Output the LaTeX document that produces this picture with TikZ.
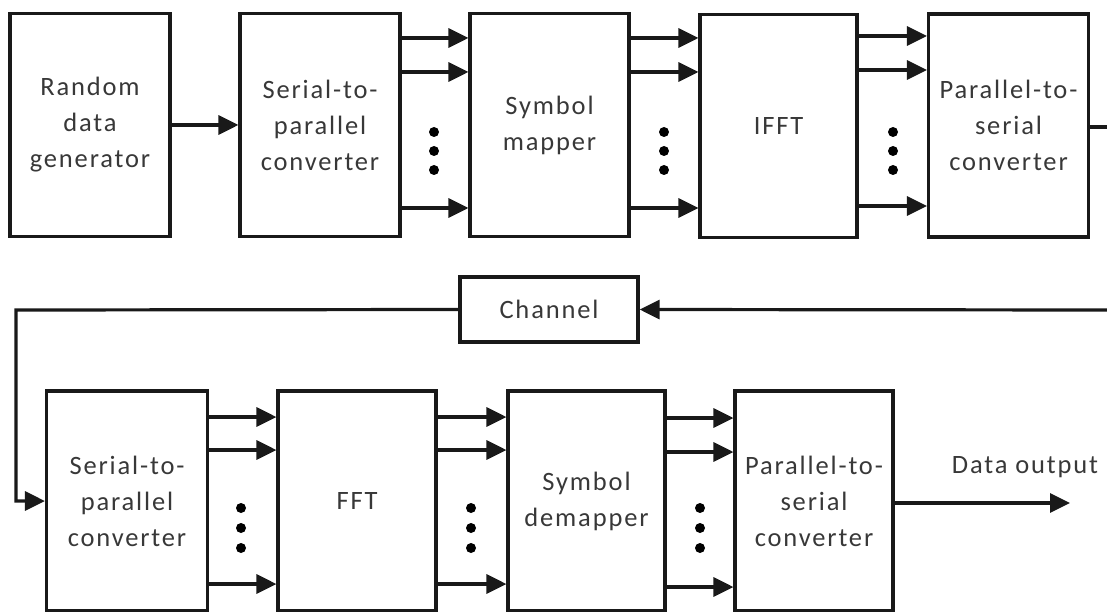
\documentclass[tikz,border=0pt]{standalone}
\usepackage{fontspec}
\setmainfont{Carlito}[LetterSpace=7]
\usetikzlibrary{arrows.meta}
\begin{document}
\begin{tikzpicture}[x=1pt,y=-1pt,
  blk/.style={draw=black!90, line width=3.2pt, inner sep=0pt, align=center,
    font=\fontsize{26.5}{36}\selectfont, text=black!78},
  arr/.style={line width=3.2pt, draw=black!90, -{Triangle[length=20pt,width=19pt]}},
  ln/.style={line width=3.2pt, draw=black!90},
  dot/.style={circle, fill=black, inner sep=0pt, minimum size=10pt}]
\useasboundingbox (0,0) rectangle (1107,612);
% top row
\node[blk, minimum width=160pt, minimum height=223pt] (rdg) at (90,125) {Random\\data\\generator};
\node[blk, minimum width=160pt, minimum height=223pt] (sp1) at (320,125) {Serial-to-\\parallel\\converter};
\node[blk, minimum width=159pt, minimum height=223pt] (map) at (549.5,125) {Symbol\\mapper};
\node[blk, minimum width=157pt, minimum height=223pt] (ifft) at (778.5,126) {IFFT};
\node[blk, minimum width=160pt, minimum height=223pt] (ps1) at (1008.5,125.5) {Parallel-to-\\serial\\converter};
% channel
\node[blk, minimum width=178pt, minimum height=65pt] (chan) at (549,309.5) {Channel};
% bottom row
\node[blk, minimum width=161pt, minimum height=220pt] (sp2) at (127,501) {Serial-to-\\parallel\\converter};
\node[blk, minimum width=158pt, minimum height=220pt] (fft) at (357,501) {FFT};
\node[blk, minimum width=157pt, minimum height=220pt] (dem) at (586.5,501) {Symbol\\demapper};
\node[blk, minimum width=158pt, minimum height=220pt] (ps2) at (814,501) {Parallel-to-\\serial\\converter};
% coordinates
\coordinate (tout) at (1107,127);
\coordinate (rin) at (1107,310);
\coordinate (lc) at (16,310);
\coordinate (dout) at (1070,503);
\node[font=\fontsize{26.5}{36}\selectfont, text=black!78] (dlab) at (1025,467) {Data output};
% top connections
\draw[arr] (rdg.east) -- (sp1.west);
\foreach \y in {38,72,208}{
  \draw[arr] (sp1.east |- 0,\y) -- (map.west |- 0,\y);
  \draw[arr] (map.east |- 0,\y) -- (ifft.west |- 0,\y);
}
\foreach \y in {36,70,206}{
  \draw[arr] (ifft.east |- 0,\y) -- (ps1.west |- 0,\y);
}
\draw[ln] (ps1.east |- tout) -- (tout);
\draw[arr] (rin) -- (chan.east);
\draw[arr] (chan.west) -- (lc) |- (sp2.west);
% bottom connections
\foreach \y in {417,450,584}{
  \draw[arr] (sp2.east |- 0,\y) -- (fft.west |- 0,\y);
  \draw[arr] (fft.east |- 0,\y) -- (dem.west |- 0,\y);
}
\foreach \y in {418,452,587}{
  \draw[arr] (dem.east |- 0,\y) -- (ps2.west |- 0,\y);
}
\draw[arr] (ps2.east |- dout) -- (dout);
% dots
\foreach \x/\n in {434/a,664/b,893/c}{
  \foreach \y/\m in {132/1,151/2,170/3}{
    \node[dot] (d\n\m) at (\x,\y) {};
  }
}
\foreach \x/\n in {241/d,471/e,700/f}{
  \foreach \y/\m in {508/1,528/2,548/3}{
    \node[dot] (d\n\m) at (\x,\y) {};
  }
}
\end{tikzpicture}
\end{document}
